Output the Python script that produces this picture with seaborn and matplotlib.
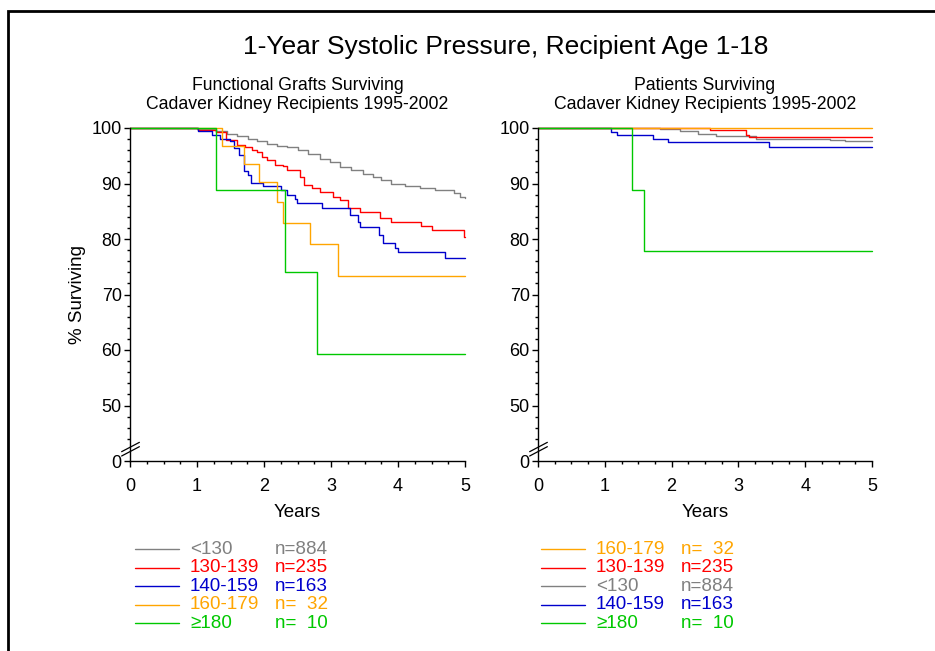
import numpy as np
import pandas as pd
import seaborn as sns
import matplotlib
matplotlib.use("Agg")
import matplotlib.pyplot as plt
from matplotlib.lines import Line2D
from matplotlib.patches import Rectangle

# ---- data (years, % surviving at each step) ----
groups = ["<130", "130-139", "140-159", "160-179", "\u2265180"]
counts = ["n=884", "n=235", "n=163", "n=  32", "n=  10"]
colors = ["#808080", "#ff0000", "#0000cc", "#ffa500", "#00c800"]

graft_t = {
    "<130": [0, 1.0, 1.29, 1.45, 1.6, 1.76, 1.9, 2.05, 2.2, 2.34, 2.5, 2.65, 2.84,
             2.98, 3.13, 3.3, 3.48, 3.62, 3.75, 3.9, 4.1, 4.33, 4.55, 4.83, 4.92, 5.0],
    "130-139": [0, 1.02, 1.29, 1.44, 1.59, 1.72, 1.82, 1.9, 1.97, 2.04, 2.16, 2.29,
                2.34, 2.54, 2.59, 2.71, 2.84, 3.03, 3.13, 3.26, 3.43, 3.73, 3.9,
                4.35, 4.5, 4.98, 5.0],
    "140-159": [0, 1.02, 1.22, 1.34, 1.49, 1.55, 1.62, 1.7, 1.76, 1.81, 1.99, 2.26,
                2.34, 2.46, 2.49, 2.86, 3.28, 3.41, 3.43, 3.71, 3.78, 3.96, 4.0,
                4.7, 5.0],
    "160-179": [0, 1.37, 1.70, 1.93, 2.19, 2.29, 2.69, 3.11, 5.0],
    "\u2265180": [0, 1.29, 2.32, 2.79, 5.0],
}
graft_s = {
    "<130": [100, 99.8, 99.5, 99.0, 98.6, 98.1, 97.6, 97.2, 96.8, 96.5, 96.0, 95.3,
             94.5, 93.8, 93.0, 92.4, 91.7, 91.2, 90.6, 89.9, 89.6, 89.2, 88.8, 88.2,
             87.6, 87.3],
    "130-139": [100, 99.6, 99.2, 97.8, 96.9, 96.6, 96.0, 95.6, 94.8, 94.2, 93.4,
                93.2, 92.4, 91.2, 89.7, 89.2, 88.4, 87.6, 87.0, 85.5, 84.8, 83.7,
                83.1, 82.3, 81.6, 80.4, 80.4],
    "140-159": [100, 99.5, 98.7, 98.0, 97.6, 96.4, 95.2, 92.2, 91.6, 90.1, 89.5,
                88.8, 87.9, 87.2, 86.4, 85.5, 84.3, 83.1, 82.2, 80.7, 79.3, 78.3,
                77.6, 76.5, 76.5],
    "160-179": [100, 96.8, 93.6, 90.3, 86.6, 82.8, 79.1, 73.3, 73.3],
    "\u2265180": [100, 88.9, 74.1, 59.3, 59.3],
}

patient_t = {
    "<130": [0, 1.83, 2.13, 2.40, 2.67, 3.27, 4.37, 4.60, 5.0],
    "130-139": [0, 2.57, 3.12, 3.16, 5.0],
    "140-159": [0, 1.10, 1.19, 1.72, 1.94, 3.46, 5.0],
    "160-179": [0, 5.0],
    "\u2265180": [0, 1.40, 1.58, 5.0],
}
patient_s = {
    "<130": [100, 99.8, 99.4, 99.0, 98.5, 98.1, 97.9, 97.7, 97.7],
    "130-139": [100, 99.6, 98.7, 98.3, 98.3],
    "140-159": [100, 99.3, 98.7, 98.0, 97.4, 96.5, 96.5],
    "160-179": [100, 100],
    "\u2265180": [100, 88.9, 77.8, 77.8],
}

left_order = ["<130", "130-139", "140-159", "160-179", "\u2265180"]
right_order = ["160-179", "130-139", "<130", "140-159", "\u2265180"]


def to_frame(times, surv):
    rows = []
    for g in groups:
        for t, s in zip(times[g], surv[g]):
            rows.append((g, t, s))
    return pd.DataFrame(rows, columns=["group", "years", "surv"])


sns.set_style("ticks")
plt.rcParams["font.family"] = ["Liberation Sans", "DejaVu Sans"]
for k in ("text.color", "axes.labelcolor", "xtick.color", "ytick.color"):
    plt.rcParams[k] = "black"
palette = dict(zip(groups, colors))

fig = plt.figure(figsize=(9.35, 6.51), dpi=100)
W, H = 935, 651


def px_axes(x0, y0, x1, y1):
    return fig.add_axes([x0 / W, 1 - y1 / H, (x1 - x0) / W, (y1 - y0) / H])


ax1 = px_axes(130, 128, 465, 461)
ax2 = px_axes(538, 128, 872, 461)

panels = [
    (ax1, to_frame(graft_t, graft_s), "Functional Grafts Surviving", left_order, 135),
    (ax2, to_frame(patient_t, patient_s), "Patients Surviving", right_order, 541),
]

for ax, df, sub, order, lx in panels:
    sns.lineplot(data=df, x="years", y="surv", hue="group", hue_order=groups,
                 palette=palette, estimator=None, sort=False, drawstyle="steps-post",
                 linewidth=1.0, legend=False, ax=ax)
    for ln in ax.get_lines():
        ln.set_clip_on(False)
    ax.set_xlim(0, 5)
    ax.set_ylim(40, 100)
    ax.set_xticks(np.arange(0, 6, 1))
    ax.set_xticks(np.arange(0, 5.01, 0.25), minor=True)
    ax.set_yticks(np.arange(40, 101, 10))
    ax.set_yticklabels(["0", "50", "60", "70", "80", "90", "100"])
    ax.set_yticks([v for v in range(44, 100, 2) if v % 10 != 0], minor=True)
    ax.tick_params(axis="both", which="major", length=4, width=1, labelsize=13,
                   color="black")
    ax.tick_params(axis="x", which="major", pad=8)
    ax.tick_params(axis="y", which="major", pad=2)
    ax.tick_params(axis="both", which="minor", length=2.5, width=1, color="black")
    ax.set_xlabel("Years", fontsize=13.5, labelpad=7)
    ax.set_ylabel("")
    for s in ("left", "bottom"):
        ax.spines[s].set_linewidth(1.0)
        ax.spines[s].set_color("black")
    sns.despine(ax=ax)
    ax.set_title(sub + "\nCadaver Kidney Recipients 1995-2002", fontsize=12.7,
                 linespacing=1.1, pad=14)
    # axis break marks
    for dy in (0.0, 0.013):
        ax.plot([-0.025, 0.028], [0.015 + dy, 0.043 + dy], transform=ax.transAxes,
                color="black", lw=0.9, clip_on=False)
    # legend block
    for i, g in enumerate(order):
        y = 1 - (549 + i * 18.6) / H
        c = palette[g]
        fig.add_artist(Line2D([lx / W, (lx + 44) / W], [y, y], color=c, lw=1.0))
        fig.text((lx + 55) / W, y, g, color=c, fontsize=13.6, va="center")
        fig.text((lx + 140) / W, y, counts[groups.index(g)], color=c, fontsize=13.6,
                 va="center")

ax1.set_ylabel("% Surviving", fontsize=13.5, labelpad=4)

fig.text(506 / W, 1 - 47 / H, "1-Year Systolic Pressure, Recipient Age 1-18",
         fontsize=19, ha="center", va="center")

fig.add_artist(Rectangle((8 / W, -0.1), 1.2, 1 - 11 / H + 0.1, fill=False,
                         edgecolor="black", lw=2.0, transform=fig.transFigure))

fig.savefig("out.png", dpi=100)
